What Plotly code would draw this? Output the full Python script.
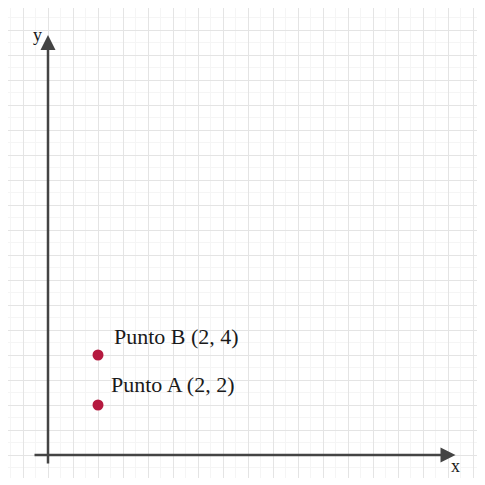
import plotly.graph_objects as go

# points on the plane
point_names = ["Punto A", "Punto B"]
point_x = [2, 2]
point_y = [2, 4]

# label offsets in pixels (dx, dy)
label_offsets = [(11, 21), (14, 19)]

fig = go.Figure()

fig.add_trace(
    go.Scatter(
        x=point_x,
        y=point_y,
        mode="markers",
        marker=dict(color="#b5193f", size=11),
        hoverinfo="skip",
        showlegend=False,
    )
)

for name, px, py, (dx, dy) in zip(point_names, point_x, point_y, label_offsets):
    fig.add_annotation(
        x=px,
        y=py,
        text=f"{name} ({px}, {py})",
        showarrow=False,
        xanchor="left",
        yanchor="middle",
        xshift=dx,
        yshift=dy,
        font=dict(family="Liberation Serif", size=22, color="#1a1a1a"),
    )

# axes drawn as arrows
fig.add_annotation(
    x=16.3, y=0, ax=-0.6, ay=0,
    xref="x", yref="y", axref="x", ayref="y",
    showarrow=True, arrowhead=2, arrowsize=1.2, arrowwidth=2.5,
    arrowcolor="#444444", text="",
)
fig.add_annotation(
    x=0, y=16.8, ax=0, ay=-0.4,
    xref="x", yref="y", axref="x", ayref="y",
    showarrow=True, arrowhead=2, arrowsize=1.2, arrowwidth=2.5,
    arrowcolor="#444444", text="",
)
fig.add_annotation(
    x=16.3, y=-0.42, text="x", showarrow=False,
    xanchor="center", yanchor="middle",
    font=dict(family="Liberation Serif", size=18, color="#1a1a1a"),
)
fig.add_annotation(
    x=-0.44, y=16.82, text="y", showarrow=False,
    xanchor="center", yanchor="middle",
    font=dict(family="Liberation Serif", size=18, color="#1a1a1a"),
)

grid = dict(
    showgrid=True,
    gridcolor="#e4e4e4",
    gridwidth=1,
    dtick=1,
    tick0=0,
    zeroline=False,
    showticklabels=False,
    ticks="",
    minor=dict(showgrid=True, gridcolor="#f5f5f5", gridwidth=1, dtick=0.5),
    fixedrange=True,
)
fig.update_xaxes(range=[-1.6, 17.2], **grid)
fig.update_yaxes(range=[-0.92, 17.88], **grid)

# the page body adds an 8px offset, so the figure is sized to fit inside it
fig.update_layout(
    width=477,
    height=477,
    margin=dict(l=0, r=7, t=0, b=7),
    paper_bgcolor="white",
    plot_bgcolor="white",
)

fig.write_html("out.html")
